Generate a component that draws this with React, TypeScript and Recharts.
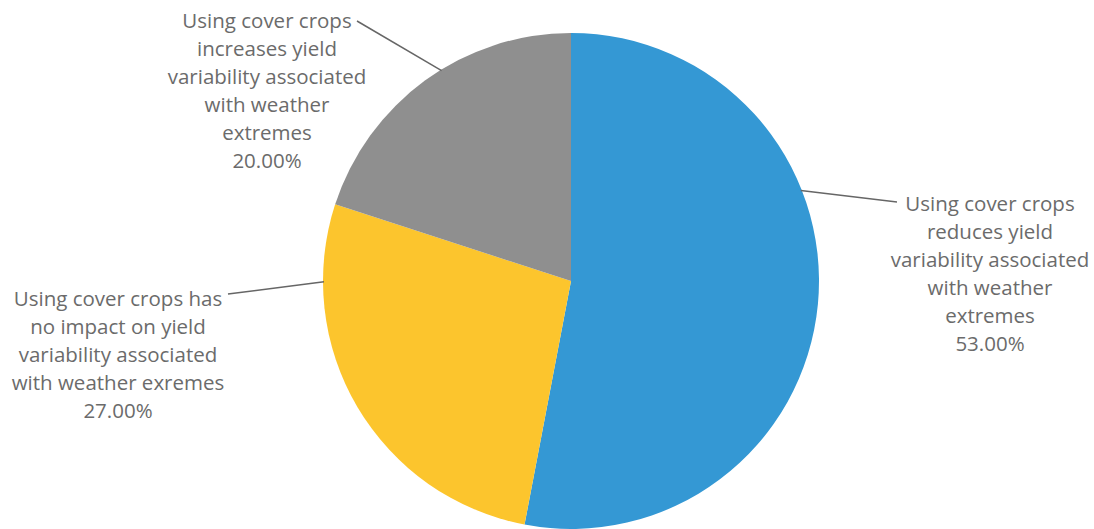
import { PieChart, Pie, Cell } from "recharts"

const categories = [
  "Using cover crops\nreduces yield\nvariability associated\nwith weather\nextremes",
  "Using cover crops has\nno impact on yield\nvariability associated\nwith weather exremes",
  "Using cover crops\nincreases yield\nvariability associated\nwith weather\nextremes",
]
const shares = [53, 27, 20]
const colors = ["#3498d4", "#fcc52d", "#8f8f8f"]

// label placement relative to pie center (Excel-style callouts)
const labelLayout = [
  { dx: 419, dy: -78, angle: 21.5, endDx: 326, endDy: -79 },
  { dx: -453, dy: 17, angle: 180.2, endDx: -343, endDy: 13 },
  { dx: -304, dy: -261, angle: 121.6, endDx: -214, endDy: -260 },
]

const data = categories.map((name, i) => ({ name, value: shares[i] }))

const RAD = Math.PI / 180
const LINE_H = 28

function renderLabel(props: any) {
  const { cx, cy, outerRadius, index, name, percent } = props
  const l = labelLayout[index]
  const sx = cx + (outerRadius - 1) * Math.cos(l.angle * RAD)
  const sy = cy - (outerRadius - 1) * Math.sin(l.angle * RAD)
  const lines = String(name).split("\n").concat(`${(percent * 100).toFixed(2)}%`)
  return (
    <g key={`lbl-${index}`}>
      <line x1={sx} y1={sy} x2={cx + l.endDx} y2={cy + l.endDy} stroke="#666666" strokeWidth={1.5} />
      {lines.map((t, i) => (
        <text
          key={i}
          x={cx + l.dx}
          y={cy + l.dy + i * LINE_H}
          textAnchor="middle"
          dominantBaseline="central"
          fill="#6b6b6b"
          fontSize={20.5}
          fontFamily="'Open Sans', sans-serif"
        >
          {t}
        </text>
      ))}
    </g>
  )
}

export default function App() {
  return (
    <div style={{ position: "absolute", left: 0, top: 0, background: "#ffffff" }}>
      <PieChart width={1094} height={529} margin={{ top: 0, right: 0, bottom: 0, left: 0 }}>
        <Pie
          data={data}
          dataKey="value"
          nameKey="name"
          cx={571}
          cy={281}
          outerRadius={248}
          startAngle={90}
          endAngle={-270}
          stroke="none"
          label={renderLabel}
          labelLine={false}
          isAnimationActive={false}
        >
          {data.map((d, i) => (
            <Cell key={d.name} fill={colors[i]} />
          ))}
        </Pie>
      </PieChart>
    </div>
  )
}
